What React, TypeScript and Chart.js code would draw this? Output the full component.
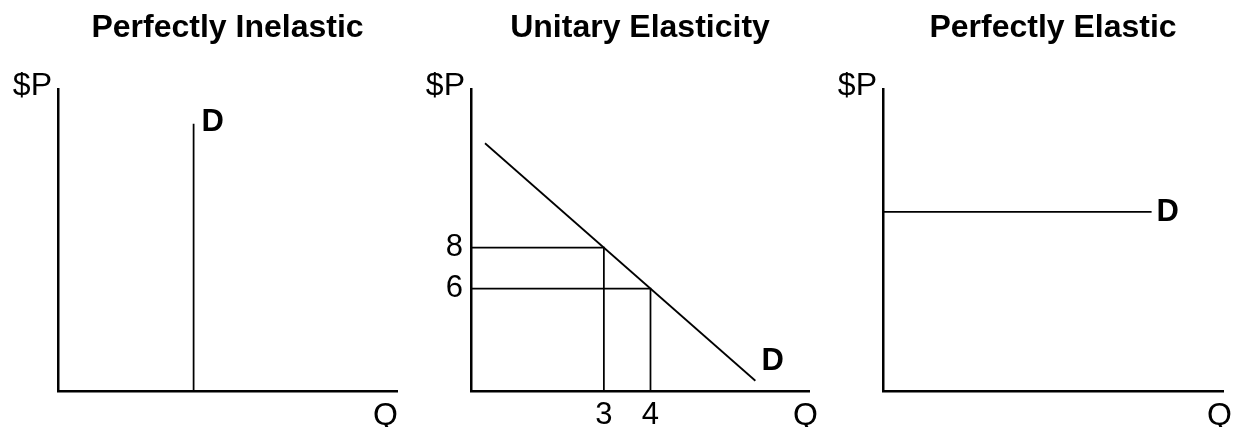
import React, { useEffect, useRef } from "react";
import { Chart, registerables } from "chart.js";

Chart.register(...registerables);

const FONT = "'Liberation Sans', Arial, Helvetica, sans-serif";

// ---- Texts ----
const titles = ["Perfectly Inelastic", "Unitary Elasticity", "Perfectly Elastic"];
const priceLabel = "$P";
const quantityLabel = "Q";
const demandLabel = "D";

// ---- Panel 1: perfectly inelastic (vertical demand) ----
const inelasticRangeX = [0, 10];
const inelasticRangeY = [0, 10];
const inelasticDemandX = [4, 4];
const inelasticDemandY = [0, 8.85];

// ---- Panel 2: unitary elasticity ----
const unitaryRangeX = [0.15, 7.4];
const unitaryRangeY = [1, 15.75];
const unitaryDemandX = [0.45, 6.25];
const unitaryDemandY = [13.1, 1.5];
const unitaryQuantities = [3, 4];
const unitaryPrices = [8, 6];
const unitaryXTicks = [3, 4];
const unitaryYTicks = [8, 6];

// ---- Panel 3: perfectly elastic (horizontal demand) ----
const elasticRangeX = [0, 10];
const elasticRangeY = [0, 10];
const elasticDemandX = [0, 7.9];
const elasticDemandY = [5.93, 5.93];

type Pt = { x: number; y: number };
const zip = (xs: number[], ys: number[]): Pt[] => xs.map((x, i) => ({ x, y: ys[i] }));

const lineStyle = {
  showLine: true,
  borderColor: "#000",
  borderWidth: 1.75,
  pointRadius: 0,
  pointHoverRadius: 0,
  fill: false,
};

interface PanelCfg {
  left: number;
  width: number;
  yAxisWidth: number;
  rightPad: number;
  title: string;
  rangeX: number[];
  rangeY: number[];
  xTicks: number[];
  yTicks: number[];
  datasets: Pt[][];
  dOffset: [number, number];
  qOffset: number;
}

const panels: PanelCfg[] = [
  {
    left: 0,
    width: 412,
    yAxisWidth: 58,
    rightPad: 15,
    title: titles[0],
    rangeX: inelasticRangeX,
    rangeY: inelasticRangeY,
    xTicks: [],
    yTicks: [],
    datasets: [zip(inelasticDemandX, inelasticDemandY)],
    dOffset: [8, -1],
    qOffset: 1,
  },
  {
    left: 412,
    width: 412,
    yAxisWidth: 59,
    rightPad: 15,
    title: titles[1],
    rangeX: unitaryRangeX,
    rangeY: unitaryRangeY,
    xTicks: unitaryXTicks,
    yTicks: unitaryYTicks,
    datasets: [
      zip(unitaryDemandX, unitaryDemandY),
      ...unitaryQuantities.map((q, i) => [
        { x: unitaryRangeX[0], y: unitaryPrices[i] },
        { x: q, y: unitaryPrices[i] },
        { x: q, y: unitaryRangeY[0] },
      ]),
    ],
    dOffset: [6, -19],
    qOffset: 9,
  },
  {
    left: 824,
    width: 413,
    yAxisWidth: 59,
    rightPad: 14,
    title: titles[2],
    rangeX: elasticRangeX,
    rangeY: elasticRangeY,
    xTicks: [],
    yTicks: [],
    datasets: [zip(elasticDemandX, elasticDemandY)],
    dOffset: [5, 1],
    qOffset: 9,
  },
];

const labelPlugin = {
  id: "econLabels",
  afterDraw(chart: any, _args: any, opts: any) {
    const { ctx, chartArea, scales } = chart;
    ctx.save();
    ctx.fillStyle = "#000";
    ctx.textBaseline = "middle";
    ctx.font = `32px ${FONT}`;
    ctx.textAlign = "right";
    ctx.fillText(priceLabel, chartArea.left - 6, chartArea.top - 3);
    ctx.fillText(quantityLabel, chartArea.right + opts.qOffset, chartArea.bottom + 25);
    const data = chart.data.datasets[0].data as Pt[];
    const last = data[data.length - 1];
    const px = scales.x.getPixelForValue(last.x);
    const py = scales.y.getPixelForValue(last.y);
    ctx.font = `bold 31px ${FONT}`;
    ctx.textAlign = "left";
    ctx.fillText(demandLabel, px + opts.dOffset[0], py + opts.dOffset[1]);
    ctx.restore();
  },
};

function Panel({ cfg }: { cfg: PanelCfg }) {
  const ref = useRef<HTMLCanvasElement>(null);
  useEffect(() => {
    const tickFont = { family: FONT, size: 31 };
    const chart = new Chart(ref.current as HTMLCanvasElement, {
      type: "scatter",
      data: {
        datasets: cfg.datasets.map((d) => ({ ...lineStyle, data: d })) as any,
      },
      options: {
        animation: false,
        responsive: false,
        events: [],
        layout: { padding: { left: 0, right: cfg.rightPad, top: 0, bottom: 0 } },
        plugins: {
          legend: { display: false },
          tooltip: { enabled: false },
          title: {
            display: true,
            text: cfg.title,
            fullSize: false,
            color: "#000",
            font: { family: FONT, size: 32, weight: "bold" },
            padding: { top: 8.8, bottom: 41.8 },
          },
          econLabels: { dOffset: cfg.dOffset, qOffset: cfg.qOffset },
        } as any,
        scales: {
          x: {
            type: "linear",
            position: "bottom",
            min: cfg.rangeX[0],
            max: cfg.rangeX[1],
            grid: { display: false, drawTicks: false },
            border: { display: true, color: "#000", width: 2.5 },
            ticks: {
              display: cfg.xTicks.length > 0,
              padding: 6,
              color: "#000",
              font: tickFont,
              autoSkip: false,
              maxRotation: 0,
            },
            afterBuildTicks: (s: any) => {
              if (cfg.xTicks.length) s.ticks = cfg.xTicks.map((v) => ({ value: v }));
            },
            afterFit: (s: any) => {
              s.height = 36;
            },
          },
          y: {
            type: "linear",
            position: "left",
            min: cfg.rangeY[0],
            max: cfg.rangeY[1],
            grid: { display: false, drawTicks: false },
            border: { display: true, color: "#000", width: 2.5 },
            ticks: {
              display: cfg.yTicks.length > 0,
              padding: 8,
              color: "#000",
              font: tickFont,
              autoSkip: false,
            },
            afterBuildTicks: (s: any) => {
              if (cfg.yTicks.length) s.ticks = cfg.yTicks.map((v) => ({ value: v }));
            },
            afterFit: (s: any) => {
              s.width = cfg.yAxisWidth;
            },
          },
        },
      } as any,
      plugins: [labelPlugin],
    });
    return () => chart.destroy();
  }, [cfg]);
  return (
    <canvas
      ref={ref}
      width={cfg.width}
      height={427}
      style={{ position: "absolute", left: cfg.left, top: 0, width: cfg.width, height: 427 }}
    />
  );
}

export default function App() {
  return (
    <div style={{ position: "absolute", left: 0, top: 0, width: 1237, height: 427, background: "#fff" }}>
      {panels.map((p, i) => (
        <Panel key={i} cfg={p} />
      ))}
    </div>
  );
}
